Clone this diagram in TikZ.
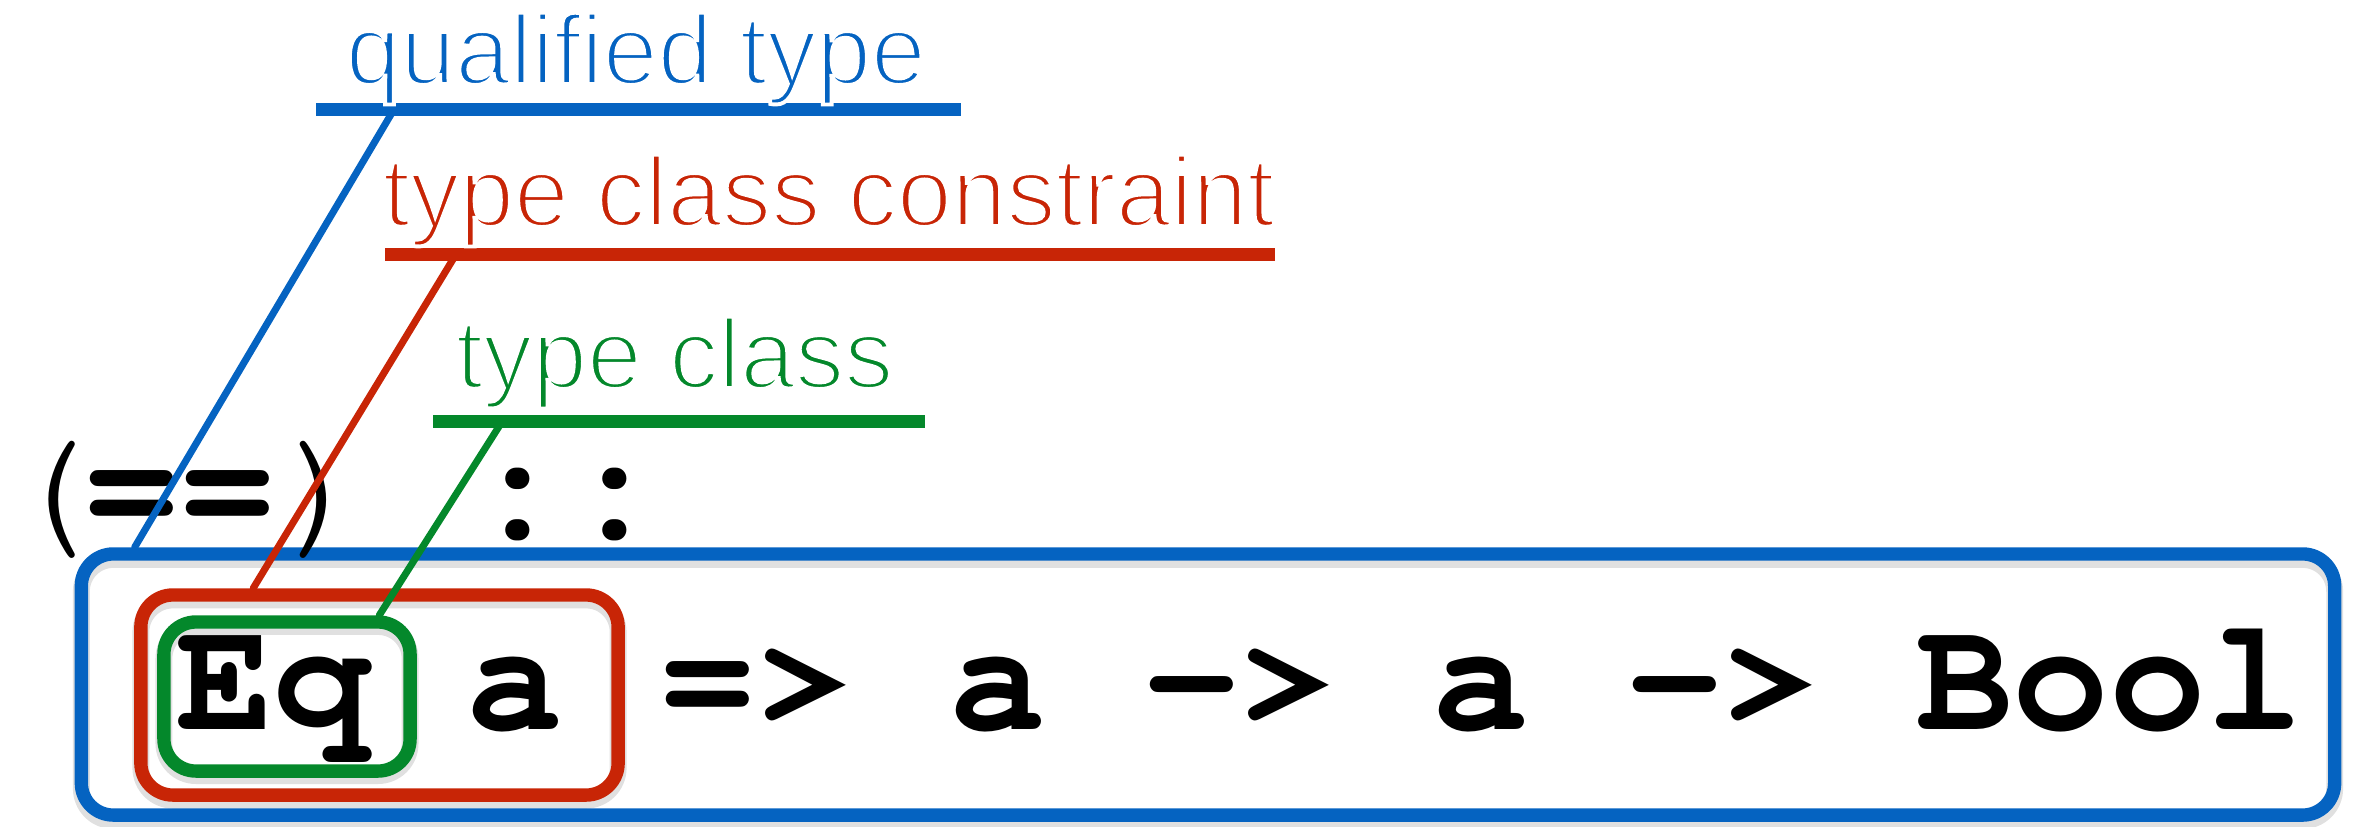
\documentclass[tikz,border=0pt]{standalone}
\usepackage[T1,TU]{fontenc}
\usepackage{fontspec}
\setmainfont{Liberation Sans}
\usetikzlibrary{calc}
\definecolor{qblue}{RGB}{5,99,193}
\definecolor{qred}{RGB}{200,37,6}
\definecolor{qgreen}{RGB}{4,136,43}
% Courier Bold through NFSS for the code
\newcommand\courierbold{\fontencoding{T1}\fontfamily{pcr}\fontseries{b}\fontshape{n}\fontsize{45.8}{50}\selectfont}
% thin parentheses in the same face
\newcommand\thinparen[1]{{\fontseries{m}\selectfont#1}}
% light label text: glyphs filled, then eroded by a thin white outline
\newcommand\lighttext[1]{\special{pdf:code 1 1 1 RG 1.1 w 2 Tr}#1\special{pdf:code 0 Tr}}
\tikzset{
  codetext/.style={anchor=base west, inner sep=0pt, text=black, font=\courierbold},
  labeltext/.style={anchor=base west, inner sep=0pt,
    font=\fontsize{28}{31}\selectfont},
  markbox/.style={draw, line width=3.8pt, rounded corners=0.32cm,
    inner sep=0pt, fill=none},
  boxshadow/.style={draw=black, draw opacity=0.12, line width=4.8pt,
    rounded corners=0.32cm, inner sep=0pt},
  underbar/.style={inner sep=0pt, minimum height=0.13cm},
  leader/.style={line width=2pt, line cap=round},
}
\begin{document}
\begin{tikzpicture}[x=0.01cm,y=-0.01cm]
\useasboundingbox (0,0) rectangle (2358,826);

% soft shadows under the boxes
\node[boxshadow, minimum width=22.52cm, minimum height=2.61cm] at (1208,690) {};
\node[boxshadow, minimum width=4.77cm, minimum height=2.00cm] at (379.5,700) {};
\node[boxshadow, minimum width=2.46cm, minimum height=1.49cm] at (287,701) {};

% the boxes
\node[markbox, draw=qblue, minimum width=22.52cm, minimum height=2.61cm] (qualbox) at (1208,684.5) {};
\node[markbox, draw=qred, minimum width=4.77cm, minimum height=2.00cm] (constrbox) at (379.5,695) {};
\node[markbox, draw=qgreen, minimum width=2.46cm, minimum height=1.49cm] (classbox) at (287,696.5) {};

% code
\node[codetext] (sig) at (1,538) {\thinparen{(}\kern-0.15cm==\thinparen{)} ::};
\node[codetext] (code) at (176,729) {Eq a => a -> a -> Bool};

% underlines
\node[underbar, fill=qblue, minimum width=6.45cm] (qline) at (638.5,109) {};
\node[underbar, fill=qred, minimum width=8.90cm] (cline) at (830,254) {};
\node[underbar, fill=qgreen, minimum width=4.92cm] (tline) at (679,421) {};

% leader lines
\draw[leader, qblue] ($(qline.south west)+(76,-2)$) -- ($(qualbox.north west)+(60,0)$);
\draw[leader, qred] ($(cline.south west)+(69,-2)$) -- ($(constrbox.north west)+(119,0)$);
\draw[leader, qgreen] ($(tline.south west)+(67,-2)$) -- ($(classbox.north west)+(222,0)$);

% labels
\node[labeltext, text=qblue] (qlabel) at (345,84) {\lighttext{qualified type}};
\node[labeltext, text=qred] (clabel) at (382,226) {\lighttext{type class constraint}};
\node[labeltext, text=qgreen] (tlabel) at (455,388) {\lighttext{type class}};
\end{tikzpicture}
\end{document}
